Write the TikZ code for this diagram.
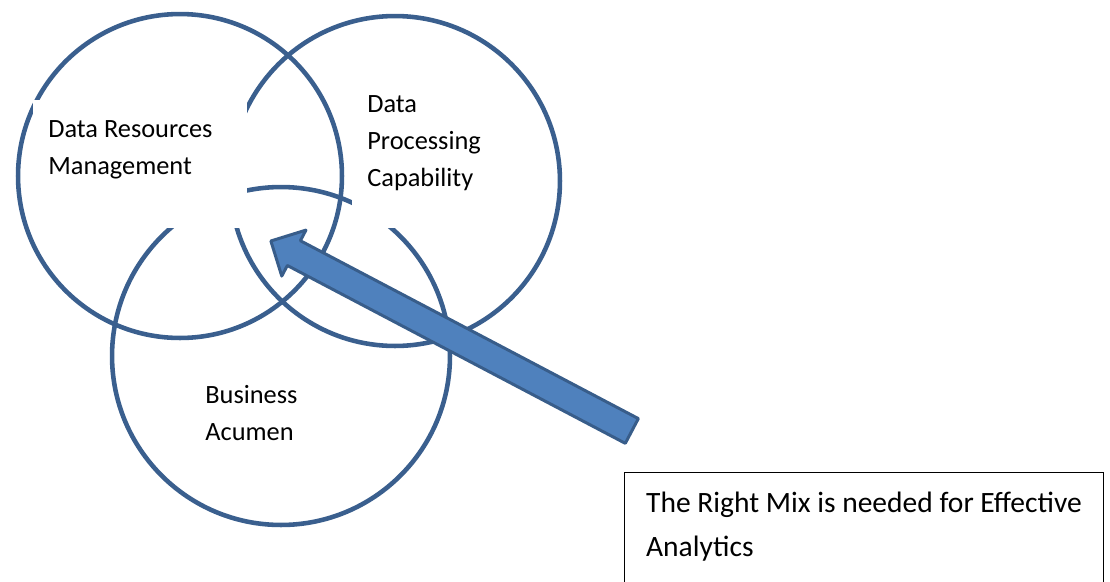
\documentclass[tikz,border=0pt]{standalone}
\usepackage{fontspec}
\setmainfont{Carlito}
\usetikzlibrary{shapes.arrows}
\definecolor{ringblue}{HTML}{3A5F8E}
\definecolor{arrowfill}{HTML}{4F81BD}
\definecolor{arrowline}{HTML}{385D8A}
\tikzset{
  ring/.style     = {shape=circle, draw=ringblue, line width=2.6pt, inner sep=0pt},
  mask/.style     = {shape=rectangle, fill=white, inner sep=0pt},
  venntext/.style = {align=left, inner sep=0pt, anchor=base west,
                     font=\fontsize{15pt}{21pt}\selectfont},
  notebox/.style  = {shape=rectangle, draw=black, line width=0.6pt,
                     align=left, anchor=north west, inner ysep=0.39cm,
                     minimum width=9.58cm, text depth=2cm,
                     font=\fontsize{16.8pt}{24.9pt}\selectfont},
  bigarrow/.style = {single arrow, draw=arrowline, fill=arrowfill,
                     line width=1.7pt, line join=round,
                     inner xsep=0pt, inner ysep=0.25cm,
                     minimum height=8.16cm, minimum width=0.98cm,
                     single arrow head extend=0.24cm,
                     single arrow head indent=0pt}
}
\begin{document}
\begin{tikzpicture}
 [x=0.02cm, y=-0.02cm]
  \useasboundingbox (0,0) rectangle (1110,582);
  \clip (0,0) rectangle (1110,582);

  \node [ring, minimum size=6.48cm] (drm) at (180,176) {};
  \node [ring, minimum size=6.6cm]  (dpc) at (395,181) {};
  \node [ring, minimum size=6.76cm] (ba)  at (281,356) {};

  % white patches behind the labels
  \node [mask, minimum width=4.28cm, minimum height=2.56cm] (drmmask) at (140,164) {};
  \node [mask, minimum width=2.96cm, minimum height=2.86cm] (dpcmask) at (426,156.5) {};

  \node [venntext] (drmtext) at (48,174)  {Data Resources\\Management};
  \node [venntext] (dpctext) at (367,186) {Data\\Processing\\Capability};
  \node [venntext] (batext)  at (205,440) {Business\\Acumen};

  \node [bigarrow, rotate=152.24, anchor=tip] (mixarrow) at (269,240) {};

  \node [notebox] (mixnote) at (624,472)
    {The Right Mix is needed for Effective\\Analytics};
\end{tikzpicture}
\end{document}
